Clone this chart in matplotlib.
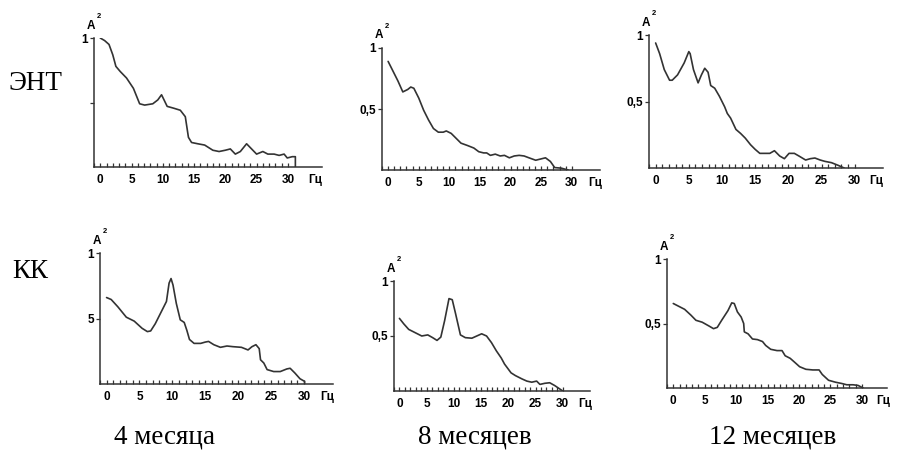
import matplotlib.pyplot as plt
from matplotlib.ticker import MultipleLocator

# ---- data (frequency, Hz / normalised power A^2) ----
ent_4_f = [0, 0.7, 1.4, 2.0, 2.5, 3.2, 4.2, 5.3, 6.3, 7.1, 8.4, 9.2, 9.8, 10.2, 10.7, 11.8,
           12.8, 13.6, 14.1, 14.6, 15.6, 16.7, 18.0, 19.0, 20.0, 20.8, 21.6, 22.4, 23.4, 24.2,
           25.0, 26.0, 26.8, 27.8, 28.6, 29.4, 29.9, 30.7, 31.2, 31.2]
ent_4_a = [1.0, 0.98, 0.95, 0.87, 0.78, 0.74, 0.69, 0.61, 0.49, 0.48, 0.49, 0.52, 0.56, 0.52,
           0.47, 0.455, 0.44, 0.39, 0.23, 0.19, 0.18, 0.17, 0.13, 0.12, 0.13, 0.14, 0.10, 0.12,
           0.18, 0.14, 0.10, 0.12, 0.10, 0.10, 0.09, 0.10, 0.07, 0.08, 0.08, 0.0]

ent_8_f = [0, 0.8, 1.6, 2.4, 3.2, 3.7, 4.2, 5.0, 5.8, 6.6, 7.4, 8.2, 9.0, 9.5, 10.3, 11.1,
           11.9, 13.0, 14.0, 14.8, 15.6, 16.1, 16.7, 17.5, 18.3, 19.0, 19.8, 20.6, 21.4, 22.2,
           23.0, 24.1, 24.9, 25.7, 26.5, 27.2, 28.3, 29.4]
ent_8_a = [0.89, 0.81, 0.73, 0.64, 0.66, 0.68, 0.67, 0.59, 0.49, 0.41, 0.34, 0.31, 0.31, 0.32,
           0.30, 0.26, 0.22, 0.20, 0.18, 0.15, 0.14, 0.14, 0.12, 0.13, 0.115, 0.12, 0.10, 0.115,
           0.12, 0.115, 0.10, 0.08, 0.09, 0.10, 0.07, 0.02, 0.015, 0.0]

ent_12_f = [0, 0.6, 1.3, 2.1, 2.5, 3.3, 4.3, 5.0, 5.2, 5.7, 6.4, 6.9, 7.4, 7.9, 8.3, 8.9, 9.6,
            10.4, 10.8, 11.3, 12.1, 12.8, 13.5, 14.3, 15.0, 15.7, 16.5, 17.2, 17.9, 18.7, 19.4,
            20.1, 20.9, 21.6, 22.6, 23.3, 24.0, 24.8, 25.5, 26.5, 27.5, 28.4]
ent_12_a = [0.94, 0.86, 0.74, 0.66, 0.66, 0.70, 0.79, 0.875, 0.86, 0.74, 0.64, 0.70, 0.75, 0.72,
            0.62, 0.60, 0.54, 0.46, 0.41, 0.375, 0.29, 0.26, 0.225, 0.175, 0.14, 0.11, 0.11,
            0.11, 0.13, 0.09, 0.07, 0.11, 0.11, 0.09, 0.06, 0.07, 0.075, 0.06, 0.05, 0.04, 0.02,
            0.0]

kk_4_f = [0, 0.7, 1.7, 3.0, 4.2, 5.4, 6.2, 6.7, 7.4, 8.4, 9.1, 9.5, 9.8, 10.1, 10.6, 11.2,
          11.8, 12.2, 12.6, 13.3, 14.3, 15.0, 15.5, 16.3, 17.3, 18.3, 19.2, 20.5, 21.5, 22.1,
          22.7, 23.2, 23.4, 23.9, 24.4, 25.4, 26.4, 27.4, 27.9, 28.6, 29.4, 30.1, 30.1]
kk_4_a = [0.66, 0.645, 0.59, 0.51, 0.48, 0.425, 0.40, 0.405, 0.46, 0.56, 0.63, 0.77, 0.805,
          0.755, 0.615, 0.49, 0.47, 0.41, 0.34, 0.31, 0.31, 0.32, 0.325, 0.30, 0.28, 0.29,
          0.285, 0.28, 0.26, 0.285, 0.30, 0.27, 0.185, 0.16, 0.11, 0.095, 0.095, 0.115, 0.12,
          0.085, 0.04, 0.02, 0.0]

kk_8_f = [0, 0.8, 1.7, 2.9, 4.1, 5.2, 6.1, 6.9, 7.6, 8.3, 9.1, 9.7, 10.3, 11.2, 12.1, 13.3,
          14.2, 15.1, 16.0, 16.9, 17.8, 18.7, 19.3, 20.5, 21.3, 22.5, 23.4, 24.3, 25.2, 25.8,
          26.7, 27.6, 28.5, 29.4, 30.0]
kk_8_a = [0.66, 0.61, 0.56, 0.53, 0.50, 0.51, 0.485, 0.46, 0.49, 0.64, 0.84, 0.83, 0.705, 0.51,
          0.485, 0.48, 0.50, 0.52, 0.50, 0.44, 0.365, 0.30, 0.245, 0.165, 0.14, 0.11, 0.09,
          0.08, 0.09, 0.06, 0.07, 0.075, 0.05, 0.02, 0.0]

kk_12_f = [0, 0.8, 1.8, 2.8, 3.6, 4.6, 5.7, 6.4, 7.0, 7.7, 8.7, 9.3, 9.7, 10.2, 10.8, 11.2,
           11.3, 11.9, 12.6, 13.4, 14.2, 14.7, 15.5, 16.5, 17.3, 17.8, 18.6, 19.3, 20.1, 21.1,
           22.2, 23.2, 23.7, 24.7, 25.8, 26.8, 27.6, 28.6, 29.4, 30.2]
kk_12_a = [0.655, 0.635, 0.61, 0.565, 0.525, 0.51, 0.48, 0.46, 0.47, 0.525, 0.60, 0.66, 0.655,
           0.59, 0.55, 0.50, 0.435, 0.42, 0.38, 0.375, 0.36, 0.33, 0.30, 0.29, 0.29, 0.25,
           0.23, 0.20, 0.165, 0.145, 0.14, 0.14, 0.105, 0.06, 0.045, 0.035, 0.025, 0.025, 0.02,
           0.0]

x_ticks = [0, 5, 10, 15, 20, 25, 30]
row_labels = ["ЭНТ", "КК"]
col_labels = ["4 месяца", "8 месяцев", "12 месяцев"]

# panel boxes in pixels: y-axis x, x-axis y, top (A^2=1) y, end of x-axis, x of "Гц"
panels = [
    (ent_4_f, ent_4_a, ["", "1"], 94, 167, 38, 322, 315),
    (ent_8_f, ent_8_a, ["0,5", "1"], 382, 170, 48, 600, 595),
    (ent_12_f, ent_12_a, ["0,5", "1"], 649, 168, 35, 883, 876),
    (kk_4_f, kk_4_a, ["5", "1"], 100, 384, 253, 333, 327),
    (kk_8_f, kk_8_a, ["0,5", "1"], 394, 391, 281, 590, 585),
    (kk_12_f, kk_12_a, ["0,5", "1"], 667, 388, 259, 887, 883),
]
px_per_hz = [6.43, 6.3, 6.83, 6.77, 5.6, 6.47]

W, H = 898, 450
fig = plt.figure(figsize=(W / 100, H / 100), dpi=100)
line_col = "#333333"
tick_font = dict(family="Liberation Sans", weight="bold", size=8.5)

for (f, a, ylabels, x0, y0, ytop, xend, xgz), pph in zip(panels, px_per_hz):
    ax = fig.add_axes([x0 / W, 1 - y0 / H, (xend - x0) / W, (y0 - ytop) / H])
    ax.plot(f, a, color=line_col, lw=1.2, solid_joinstyle="round", solid_capstyle="round")
    ax.set_xlim(0, (xend - x0) / pph)
    ax.set_ylim(0, 1)
    for s in ["top", "right"]:
        ax.spines[s].set_visible(False)
    for s in ["left", "bottom"]:
        ax.spines[s].set_color(line_col)
        ax.spines[s].set_linewidth(1.1)

    ax.set_xticks(x_ticks)
    ax.set_xticklabels([str(t) for t in x_ticks], **tick_font)
    ax.xaxis.set_minor_locator(MultipleLocator(1))
    ax.set_xticks([t for t in ax.get_xticks(minor=True) if t <= 30], minor=True)
    ax.tick_params(axis="x", which="both", direction="in", length=3, width=0.9,
                   color=line_col, pad=5)

    ax.set_yticks([0.5, 1.0])
    ax.set_yticklabels(ylabels, **tick_font)
    ax.tick_params(axis="y", direction="out", length=3, width=0.9, color=line_col, pad=1.5)

    gz_x = (xgz - x0) / pph
    ax.annotate("Гц", xy=(gz_x, 0), xycoords=("data", "axes fraction"),
                xytext=(0, -5), textcoords="offset points", ha="center", va="top",
                **tick_font)
    ax.annotate("A", xy=(0, 1), xycoords="axes fraction", xytext=(0.8, 9),
                textcoords="offset points", ha="right", va="center", **tick_font)
    ax.annotate("2", xy=(0, 1), xycoords="axes fraction", xytext=(1.8, 15.5),
                textcoords="offset points", ha="left", va="center",
                family="Liberation Sans", weight="bold", size=5.5)

serif = dict(family="Liberation Serif", size=19.5)
fig.text(35 / W, 1 - 83 / H, row_labels[0], ha="center", va="center", **serif)
fig.text(30 / W, 1 - 272 / H, row_labels[1], ha="center", va="center", **serif)
for cx, lab in zip([165, 475, 773], col_labels):
    fig.text(cx / W, 1 - 437 / H, lab, ha="center", va="center", **serif)

fig.savefig("out.png", dpi=100, facecolor="white")
